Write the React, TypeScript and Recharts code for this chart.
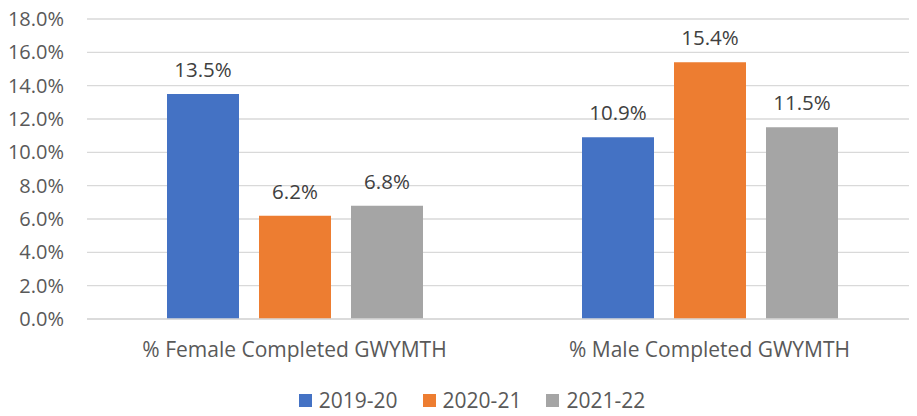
import { BarChart, Bar, XAxis, YAxis, CartesianGrid, Legend, LabelList } from 'recharts'

const categories = ['% Female Completed GWYMTH', '% Male Completed GWYMTH']
const years = ['2019-20', '2020-21', '2021-22']
const values2019 = [13.5, 10.9]
const values2020 = [6.2, 15.4]
const values2021 = [6.8, 11.5]
const yTicks = [0, 2, 4, 6, 8, 10, 12, 14, 16, 18]

const colors = ['#4472C4', '#ED7D31', '#A5A5A5']
const FONT = '"Open Sans", sans-serif'

const data = categories.map((name, i) => ({
  name,
  [years[0]]: values2019[i],
  [years[1]]: values2020[i],
  [years[2]]: values2021[i],
}))

function LegendContent() {
  return (
    <div
      style={{
        height: 50,
        boxSizing: 'border-box',
        paddingTop: 22,
        paddingLeft: 27,
        display: 'flex',
        justifyContent: 'center',
        gap: 25,
        fontFamily: FONT,
        fontSize: 21,
        color: '#595959',
        lineHeight: '24px',
      }}
    >
      {years.map((y, i) => (
        <div key={y} style={{ display: 'flex', alignItems: 'center', height: 24 }}>
          <span style={{ width: 13, height: 13, background: colors[i], marginRight: 7, display: 'inline-block' }} />
          <span>{y}</span>
        </div>
      ))}
    </div>
  )
}

export default function App() {
  return (
    <div style={{ margin: -8, width: 917, height: 416, background: '#fff' }}>
      <BarChart
        width={917}
        height={416}
        data={data}
        margin={{ top: 19, right: 0, left: 0, bottom: 0 }}
        barSize={72}
        barGap={20}
      >
        <CartesianGrid vertical={false} stroke="#D9D9D9" strokeWidth={1.3} />
        <XAxis
          dataKey="name"
          height={47}
          axisLine={{ stroke: '#D9D9D9', strokeWidth: 1.3 }}
          tickLine={false}
          tickSize={0}
          tickMargin={23}
          tick={{ fill: '#595959', fontSize: 21, fontFamily: FONT }}
        />
        <YAxis
          width={87}
          domain={[0, 18]}
          ticks={yTicks}
          axisLine={false}
          tickLine={false}
          tickSize={0}
          tickMargin={23}
          tickFormatter={(v: number) => `${v.toFixed(1)}%`}
          tick={{ fill: '#595959', fontSize: 20, fontFamily: FONT }}
        />
        <Legend verticalAlign="bottom" content={<LegendContent />} />
        {years.map((y, i) => (
          <Bar key={y} dataKey={y} fill={colors[i]} isAnimationActive={false}>
            <LabelList
              dataKey={y}
              position="top"
              offset={17}
              formatter={(v: number) => `${v.toFixed(1)}%`}
              style={{ fill: '#404040', fontSize: 20.5, fontFamily: FONT }}
            />
          </Bar>
        ))}
      </BarChart>
    </div>
  )
}
